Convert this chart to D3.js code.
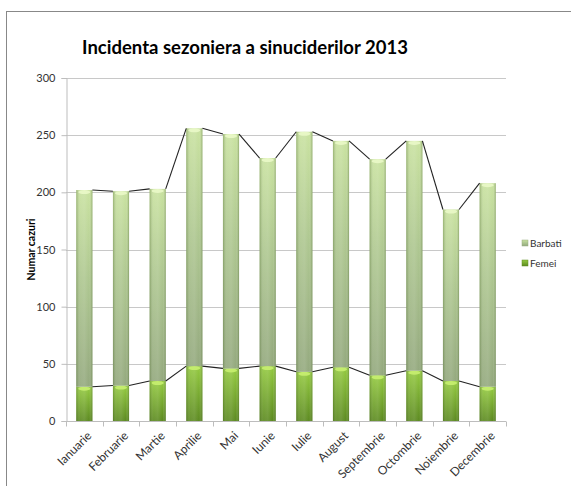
<!DOCTYPE html>
<html>
<head>
<meta charset="utf-8">
<script src="https://cdn.jsdelivr.net/npm/d3@7"></script>
<style>
    body { margin: 0; background: #fff; }
    svg { display: block; font-family: Lato, "Open Sans", sans-serif; }
</style>
</head>
<body>
<svg id="chart" width="571" height="486"></svg>
<script>
const months = ["Ianuarie", "Februarie", "Martie", "Aprilie", "Mai", "Iunie",
    "Iulie", "August", "Septembrie", "Octombrie", "Noiembrie", "Decembrie"];
const femei = [30, 31, 35, 48, 46, 48, 43, 47, 40, 44, 35, 30];
const barbati = [172, 170, 168, 208, 205, 182, 210, 198, 189, 201, 150, 178];
const yTicks = [0, 50, 100, 150, 200, 250, 300];
const seriesNames = ["Barbati", "Femei"];

const svg = d3.select("#chart");
const plotLeft = 66, plotRight = 506, plotTop = 78, plotBottom = 421;

// outer chart border
svg.append("rect")
    .attr("x", 6.5).attr("y", 11.5)
    .attr("width", 600).attr("height", 500)
    .attr("fill", "none").attr("stroke", "#888").attr("stroke-width", 1);

const defs = svg.append("defs");

function vGrad(id, stops) {
    let g = defs.append("linearGradient").attr("id", id)
        .attr("x1", 0).attr("y1", 0).attr("x2", 0).attr("y2", 1);
    stops.forEach(s => g.append("stop").attr("offset", s[0]).attr("stop-color", s[1]));
}
vGrad("gBarbati", [[0, "#c9e2a0"], [0.45, "#aec790"], [1, "#94a97e"]]);
vGrad("gFemei", [[0, "#94ca40"], [1, "#5c8a20"]]);

let edge = defs.append("linearGradient").attr("id", "gEdge")
    .attr("x1", 0).attr("y1", 0).attr("x2", 1).attr("y2", 0);
edge.append("stop").attr("offset", 0).attr("stop-color", "#3c5a1a").attr("stop-opacity", 0.35);
edge.append("stop").attr("offset", 0.25).attr("stop-color", "#ffffff").attr("stop-opacity", 0.08);
edge.append("stop").attr("offset", 0.5).attr("stop-color", "#ffffff").attr("stop-opacity", 0.12);
edge.append("stop").attr("offset", 0.8).attr("stop-color", "#ffffff").attr("stop-opacity", 0.0);
edge.append("stop").attr("offset", 1).attr("stop-color", "#3c5a1a").attr("stop-opacity", 0.4);

const x = d3.scaleBand().domain(months).range([plotLeft, plotRight])
    .paddingInner(0.56).paddingOuter(0.28);
const y = d3.scaleLinear().domain([0, 300]).range([plotBottom, plotTop]);

// title
svg.append("text")
    .attr("x", 245).attr("y", 54)
    .attr("text-anchor", "middle")
    .style("font-size", "18.5px").style("font-weight", "bold").style("fill", "#000")
    .text("Incidenta sezoniera a sinuciderilor 2013");

// gridlines
svg.append("g").selectAll("line")
    .data(yTicks.filter(d => d > 0))
    .join("line")
    .attr("x1", plotLeft).attr("x2", plotRight)
    .attr("y1", d => Math.round(y(d)) + 0.5).attr("y2", d => Math.round(y(d)) + 0.5)
    .attr("stroke", "#c8c8c8");

// y axis
const yAxis = svg.append("g")
    .attr("transform", `translate(${plotLeft + 0.5},0)`)
    .call(d3.axisLeft(y).tickValues(yTicks).tickSize(5).tickPadding(6));
yAxis.select(".domain").attr("stroke", "#bdbdbd");
yAxis.selectAll(".tick line").attr("stroke", "#bdbdbd");
yAxis.selectAll("text").style("font-size", "11px").style("fill", "#333")
    .style("font-family", "Lato, 'Open Sans', sans-serif");

// x axis
const xAxis = svg.append("g").attr("transform", `translate(0,${plotBottom + 0.5})`);
xAxis.append("line").attr("x1", plotLeft).attr("x2", plotRight).attr("stroke", "#bdbdbd");
const step = x.step();
xAxis.selectAll(".tk")
    .data(d3.range(months.length + 1))
    .join("line")
    .attr("x1", i => Math.round(plotLeft + i * step) + 0.5)
    .attr("x2", i => Math.round(plotLeft + i * step) + 0.5)
    .attr("y1", 0).attr("y2", 5)
    .attr("stroke", "#bdbdbd");
xAxis.selectAll("text.lbl")
    .data(months)
    .join("text")
    .attr("class", "lbl")
    .attr("transform", d => `translate(${x(d) + x.bandwidth() / 2 + 5},12) rotate(-45)`)
    .attr("text-anchor", "end")
    .attr("dy", "0.35em")
    .style("font-size", "12px").style("fill", "#333")
    .text(d => d);

// y axis label
svg.append("text")
    .attr("transform", `translate(35,${y(150)}) rotate(-90)`)
    .attr("text-anchor", "middle")
    .style("font-size", "10.5px").style("font-weight", "bold")
    .text("Numar cazuri");

// stacked bars
const rows = months.map((m, i) => ({month: m, Femei: femei[i], Barbati: barbati[i]}));
const stack = d3.stack().keys(["Femei", "Barbati"])(rows);

const bars = svg.append("g");
stack.forEach(layer => {
    let g = bars.append("g");
    g.selectAll("rect.b")
        .data(layer)
        .join("rect")
        .attr("x", d => x(d.data.month))
        .attr("y", d => y(d[1]))
        .attr("width", x.bandwidth())
        .attr("height", d => y(d[0]) - y(d[1]))
        .attr("fill", layer.key === "Femei" ? "url(#gFemei)" : "url(#gBarbati)");
    g.selectAll("rect.e")
        .data(layer)
        .join("rect")
        .attr("x", d => x(d.data.month))
        .attr("y", d => y(d[1]))
        .attr("width", x.bandwidth())
        .attr("height", d => y(d[0]) - y(d[1]))
        .attr("fill", "url(#gEdge)");
    // bevel cap on top of each segment
    g.selectAll("ellipse")
        .data(layer)
        .join("ellipse")
        .attr("cx", d => x(d.data.month) + x.bandwidth() / 2)
        .attr("cy", d => y(d[1]) + 2)
        .attr("rx", x.bandwidth() / 2 - 2)
        .attr("ry", 2)
        .attr("fill", layer.key === "Femei" ? "#c8f070" : "#eaf8c8")
        .attr("opacity", 0.9);
});

// series lines
stack.forEach(layer => {
    let segs = [];
    for (let i = 0; i < layer.length - 1; i++) {
        segs.push({
            x1: x(months[i]) + x.bandwidth(), y1: y(layer[i][1]),
            x2: x(months[i + 1]), y2: y(layer[i + 1][1])
        });
    }
    svg.append("g").selectAll("line")
        .data(segs)
        .join("line")
        .attr("x1", d => d.x1).attr("y1", d => d.y1)
        .attr("x2", d => d.x2).attr("y2", d => d.y2)
        .attr("stroke", "#222").attr("stroke-width", 1.1);
});

// legend
const legend = svg.append("g").attr("transform", "translate(522,243)");
seriesNames.forEach((name, i) => {
    let g = legend.append("g").attr("transform", `translate(0,${i * 20})`);
    g.append("rect").attr("x", 0).attr("y", -3).attr("width", 6).attr("height", 6)
        .attr("fill", name === "Femei" ? "url(#gFemei)" : "url(#gBarbati)")
        .attr("stroke", name === "Femei" ? "#5e8c22" : "#97ac80").attr("stroke-width", 0.5);
    g.append("text").attr("x", 8).attr("y", 0).attr("dy", "0.35em")
        .style("font-size", "10px").style("fill", "#333")
        .text(name);
});
</script>
</body>
</html>
